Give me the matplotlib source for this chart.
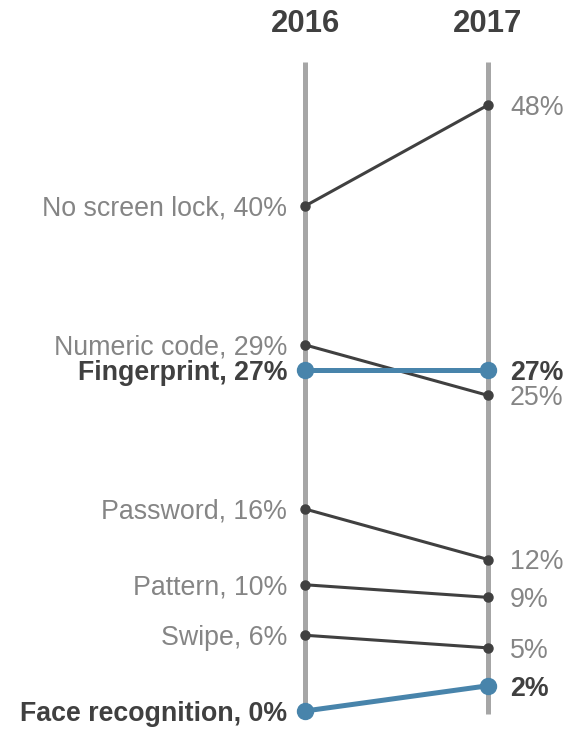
import matplotlib
matplotlib.use("Agg")
import matplotlib.pyplot as plt

plt.rcParams['font.family'] = ['Liberation Sans', 'DejaVu Sans']

years = ["2016", "2017"]
methods = ["No screen lock", "Numeric code", "Fingerprint", "Password",
           "Pattern", "Swipe", "Face recognition"]
share_2016 = [40, 29, 27, 16, 10, 6, 0]
share_2017 = [48, 25, 27, 12, 9, 5, 2]
highlight = ["Fingerprint", "Face recognition"]

DARK = "#404040"
GRAY_TEXT = "#858585"
AXIS_GRAY = "#a6a6a6"
BLUE = "#4884ab"

fig = plt.figure(figsize=(5.72, 7.29), dpi=100)
ax = fig.add_axes([0, 0, 1, 1])
ax.set_xlim(-1.667, 1.459)
ax.set_ylim(-1.426, 56.32)
ax.axis("off")

# year columns
for xi, yr in enumerate(years):
    ax.plot([xi, xi], [-0.2, 51.4], color=AXIS_GRAY, lw=3.6,
            solid_capstyle="butt", zorder=1)
    ax.text(xi, 54.4, yr, ha="center", va="center", fontsize=22.4,
            fontweight="bold", color=DARK)

dy = -0.22
for name, a, b in zip(methods, share_2016, share_2017):
    hl = name in highlight
    col = BLUE if hl else DARK
    lw = 3.6 if hl else 2.2
    ms = 11.5 if hl else 6.5
    ax.plot([0, 1], [a, b], color=col, lw=lw, marker="o", ms=ms,
            solid_capstyle="round", zorder=3 if hl else 2, clip_on=False)
    tcol = DARK if hl else GRAY_TEXT
    fw = "bold" if hl else "normal"
    ax.text(-0.098, a + dy, f"{name}, {a}%", ha="right", va="center",
            fontsize=19.3, color=tcol, fontweight=fw)
    ax.text(1.12, b + dy, f"{b}%", ha="left", va="center",
            fontsize=19.3, color=tcol, fontweight=fw)

fig.savefig("out.png", dpi=100)
